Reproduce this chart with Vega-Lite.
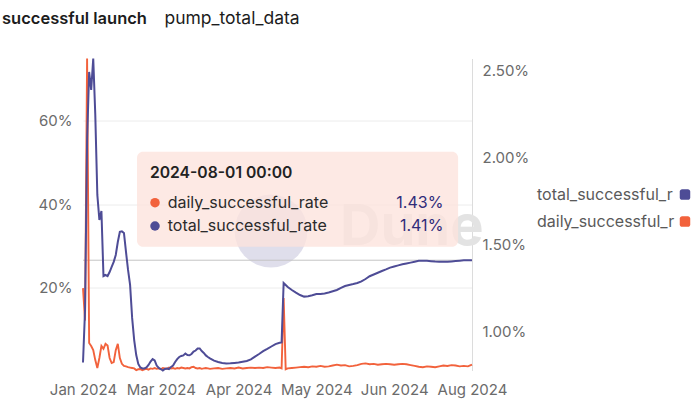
{
  "$schema": "https://vega.github.io/schema/vega-lite/v6.json",
  "width": 389,
  "height": 312,
  "autosize": {"type": "none"},
  "padding": {"left": 83, "top": 58.5, "right": 228, "bottom": 30.5},
  "background": "#ffffff",
  "config": {
    "font": "Inter",
    "view": {"stroke": null},
    "axis": {"labelFont": "Inter", "labelFontSize": 15, "labelColor": "#6b6b6b", "ticks": false, "tickSize": 0, "domain": false, "grid": false}
  },
  "title": {
    "text": "successful launch",
    "subtitle": "\u200b\u00a0\u00a0\u00a0\u00a0\u00a0\u00a0\u00a0\u00a0\u00a0\u00a0\u00a0\u00a0\u00a0\u00a0\u00a0\u00a0\u00a0\u00a0\u00a0\u00a0\u00a0\u00a0\u00a0\u00a0\u00a0\u00a0\u00a0\u00a0\u00a0\u00a0\u00a0\u00a0\u00a0pump_total_data",
    "anchor": "start",
    "frame": "group",
    "dx": -81,
    "offset": 26.5,
    "font": "Inter",
    "fontSize": 16.5,
    "fontWeight": 600,
    "color": "#1c1c1c",
    "subtitleFont": "Inter",
    "subtitleFontSize": 17.5,
    "subtitleFontWeight": 400,
    "subtitleColor": "#1c1c1c",
    "subtitlePadding": -17.3
  },
  "data": {
    "values": [
      {"date": "2024-01-24", "daily": 0.198, "total": 0.00823},
      {"date": "2024-01-25", "daily": 0.120, "total": 0.01124},
      {"date": "2024-01-26", "daily": 0.750, "total": 0.02099},
      {"date": "2024-01-27", "daily": 0.066, "total": 0.02489},
      {"date": "2024-01-28", "daily": 0.059, "total": 0.02386},
      {"date": "2024-01-29", "daily": 0.049, "total": 0.02566},
      {"date": "2024-01-30", "daily": 0.025, "total": 0.02243},
      {"date": "2024-01-31", "daily": 0.006, "total": 0.01784},
      {"date": "2024-02-01", "daily": 0.030, "total": 0.01640},
      {"date": "2024-02-02", "daily": 0.059, "total": 0.01692},
      {"date": "2024-02-03", "daily": 0.052, "total": 0.01319},
      {"date": "2024-02-04", "daily": 0.064, "total": 0.01325},
      {"date": "2024-02-05", "daily": 0.060, "total": 0.01319},
      {"date": "2024-02-06", "daily": 0.030, "total": 0.01342},
      {"date": "2024-02-07", "daily": 0.018, "total": 0.01371},
      {"date": "2024-02-08", "daily": 0.020, "total": 0.01400},
      {"date": "2024-02-09", "daily": 0.049, "total": 0.01440},
      {"date": "2024-02-10", "daily": 0.064, "total": 0.01514},
      {"date": "2024-02-11", "daily": 0.030, "total": 0.01572},
      {"date": "2024-02-12", "daily": 0.016, "total": 0.01575},
      {"date": "2024-02-13", "daily": 0.011, "total": 0.01566},
      {"date": "2024-02-14", "daily": 0.010, "total": 0.01457},
      {"date": "2024-02-15", "daily": 0.008, "total": 0.01354},
      {"date": "2024-02-16", "daily": 0.007, "total": 0.01268},
      {"date": "2024-02-17", "daily": 0.006, "total": 0.01079},
      {"date": "2024-02-18", "daily": 0.005, "total": 0.00952},
      {"date": "2024-02-19", "daily": 0.001, "total": 0.00866},
      {"date": "2024-02-20", "daily": 0.003, "total": 0.00815},
      {"date": "2024-02-21", "daily": 0.0035, "total": 0.00795},
      {"date": "2024-02-22", "daily": 0.001, "total": 0.00789},
      {"date": "2024-02-23", "daily": 0.003, "total": 0.00789},
      {"date": "2024-02-24", "daily": 0.004, "total": 0.00795},
      {"date": "2024-02-25", "daily": 0.002, "total": 0.00809},
      {"date": "2024-02-26", "daily": 0.005, "total": 0.00829},
      {"date": "2024-02-27", "daily": 0.004, "total": 0.00843},
      {"date": "2024-02-28", "daily": 0.006, "total": 0.00835},
      {"date": "2024-02-29", "daily": 0.004, "total": 0.00806},
      {"date": "2024-03-01", "daily": 0.005, "total": 0.00792},
      {"date": "2024-03-02", "daily": 0.003, "total": 0.00786},
      {"date": "2024-03-03", "daily": 0.006, "total": 0.007775},
      {"date": "2024-03-04", "daily": 0.005, "total": 0.00786},
      {"date": "2024-03-05", "daily": 0.004, "total": 0.00789},
      {"date": "2024-03-06", "daily": 0.007, "total": 0.00786},
      {"date": "2024-03-07", "daily": 0.005, "total": 0.00798},
      {"date": "2024-03-08", "daily": 0.006, "total": 0.00806},
      {"date": "2024-03-09", "daily": 0.004, "total": 0.00826},
      {"date": "2024-03-10", "daily": 0.006, "total": 0.00843},
      {"date": "2024-03-11", "daily": 0.005, "total": 0.00855},
      {"date": "2024-03-12", "daily": 0.007, "total": 0.00861},
      {"date": "2024-03-13", "daily": 0.006, "total": 0.00864},
      {"date": "2024-03-14", "daily": 0.005, "total": 0.00875},
      {"date": "2024-03-15", "daily": 0.006, "total": 0.00866},
      {"date": "2024-03-16", "daily": 0.005, "total": 0.00865},
      {"date": "2024-03-17", "daily": 0.008, "total": 0.00872},
      {"date": "2024-03-18", "daily": 0.009, "total": 0.00886},
      {"date": "2024-03-19", "daily": 0.006, "total": 0.00892},
      {"date": "2024-03-20", "daily": 0.005, "total": 0.00904},
      {"date": "2024-03-21", "daily": 0.006, "total": 0.00904},
      {"date": "2024-03-22", "daily": 0.004, "total": 0.00889},
      {"date": "2024-03-23", "daily": 0.005, "total": 0.00878},
      {"date": "2024-03-24", "daily": 0.006, "total": 0.00864},
      {"date": "2024-03-25", "daily": 0.005, "total": 0.00855},
      {"date": "2024-03-26", "daily": 0.004, "total": 0.00847},
      {"date": "2024-03-28", "daily": 0.005, "total": 0.00834},
      {"date": "2024-03-30", "daily": 0.006, "total": 0.00826},
      {"date": "2024-04-01", "daily": 0.004, "total": 0.00821},
      {"date": "2024-04-03", "daily": 0.005, "total": 0.00818},
      {"date": "2024-04-05", "daily": 0.006, "total": 0.00819},
      {"date": "2024-04-07", "daily": 0.005, "total": 0.00821},
      {"date": "2024-04-09", "daily": 0.007, "total": 0.00823},
      {"date": "2024-04-11", "daily": 0.005, "total": 0.00828},
      {"date": "2024-04-13", "daily": 0.006, "total": 0.00832},
      {"date": "2024-04-15", "daily": 0.007, "total": 0.00841},
      {"date": "2024-04-17", "daily": 0.006, "total": 0.00857},
      {"date": "2024-04-19", "daily": 0.007, "total": 0.00872},
      {"date": "2024-04-21", "daily": 0.006, "total": 0.00888},
      {"date": "2024-04-23", "daily": 0.008, "total": 0.00901},
      {"date": "2024-04-25", "daily": 0.007, "total": 0.00915},
      {"date": "2024-04-27", "daily": 0.006, "total": 0.00929},
      {"date": "2024-04-29", "daily": 0.007, "total": 0.00936},
      {"date": "2024-04-30", "daily": 0.005, "total": 0.00938},
      {"date": "2024-05-01", "daily": 0.174, "total": 0.01279},
      {"date": "2024-05-02", "daily": 0.003, "total": 0.01268},
      {"date": "2024-05-03", "daily": 0.005, "total": 0.01256},
      {"date": "2024-05-05", "daily": 0.006, "total": 0.01239},
      {"date": "2024-05-07", "daily": 0.007, "total": 0.01224},
      {"date": "2024-05-09", "daily": 0.008, "total": 0.01210},
      {"date": "2024-05-11", "daily": 0.009, "total": 0.01201},
      {"date": "2024-05-13", "daily": 0.008, "total": 0.01203},
      {"date": "2024-05-15", "daily": 0.010, "total": 0.01209},
      {"date": "2024-05-17", "daily": 0.009, "total": 0.01216},
      {"date": "2024-05-19", "daily": 0.011, "total": 0.01216},
      {"date": "2024-05-21", "daily": 0.009, "total": 0.01219},
      {"date": "2024-05-23", "daily": 0.010, "total": 0.01225},
      {"date": "2024-05-25", "daily": 0.012, "total": 0.01232},
      {"date": "2024-05-27", "daily": 0.014, "total": 0.01239},
      {"date": "2024-05-29", "daily": 0.012, "total": 0.01251},
      {"date": "2024-05-31", "daily": 0.013, "total": 0.01262},
      {"date": "2024-06-02", "daily": 0.010, "total": 0.01268},
      {"date": "2024-06-04", "daily": 0.011, "total": 0.01273},
      {"date": "2024-06-06", "daily": 0.013, "total": 0.01279},
      {"date": "2024-06-08", "daily": 0.016, "total": 0.01288},
      {"date": "2024-06-10", "daily": 0.017, "total": 0.01302},
      {"date": "2024-06-12", "daily": 0.015, "total": 0.01318},
      {"date": "2024-06-14", "daily": 0.016, "total": 0.01328},
      {"date": "2024-06-16", "daily": 0.014, "total": 0.01338},
      {"date": "2024-06-18", "daily": 0.015, "total": 0.01348},
      {"date": "2024-06-20", "daily": 0.016, "total": 0.01357},
      {"date": "2024-06-22", "daily": 0.015, "total": 0.01367},
      {"date": "2024-06-24", "daily": 0.014, "total": 0.01374},
      {"date": "2024-06-26", "daily": 0.015, "total": 0.01380},
      {"date": "2024-06-28", "daily": 0.016, "total": 0.01386},
      {"date": "2024-06-30", "daily": 0.015, "total": 0.01391},
      {"date": "2024-07-02", "daily": 0.013, "total": 0.01396},
      {"date": "2024-07-04", "daily": 0.011, "total": 0.01401},
      {"date": "2024-07-06", "daily": 0.009, "total": 0.01406},
      {"date": "2024-07-08", "daily": 0.008, "total": 0.01407},
      {"date": "2024-07-10", "daily": 0.010, "total": 0.01406},
      {"date": "2024-07-12", "daily": 0.009, "total": 0.01404},
      {"date": "2024-07-14", "daily": 0.008, "total": 0.01402},
      {"date": "2024-07-16", "daily": 0.010, "total": 0.01401},
      {"date": "2024-07-18", "daily": 0.012, "total": 0.01401},
      {"date": "2024-07-20", "daily": 0.011, "total": 0.01401},
      {"date": "2024-07-22", "daily": 0.013, "total": 0.01403},
      {"date": "2024-07-24", "daily": 0.012, "total": 0.01405},
      {"date": "2024-07-26", "daily": 0.010, "total": 0.01407},
      {"date": "2024-07-28", "daily": 0.011, "total": 0.01409},
      {"date": "2024-07-30", "daily": 0.010, "total": 0.01409},
      {"date": "2024-08-01", "daily": 0.0143, "total": 0.0141}
    ]
  },
  "layer": [
    {
      "layer": [
        {
          "data": {"values": [{}]},
          "mark": {"type": "point", "filled": true, "size": 5300, "color": "#1e1870", "opacity": 0.14, "strokeWidth": 0},
          "encoding": {
            "x": {"datum": {"year": 2024, "month": 4, "date": 24, "hours": 20, "utc": true}, "type": "temporal", "title": null},
            "y": {"datum": 0.3353, "type": "quantitative", "title": null}
          }
        },
        {
          "data": {"values": [{}]},
          "mark": {"type": "text", "text": "Dune", "fontSize": 56, "fontWeight": 700, "color": "#e3e3e3", "align": "left", "baseline": "alphabetic", "font": "Inter"},
          "encoding": {
            "x": {"datum": {"year": 2024, "month": 5, "date": 28, "hours": 13, "utc": true}, "type": "temporal", "title": null},
            "y": {"datum": 0.3017, "type": "quantitative", "title": null}
          }
        },
        {
          "data": {"values": [{}]},
          "mark": {"type": "rule", "color": "#c4c4c4", "strokeWidth": 1},
          "encoding": {
            "y": {"datum": 0.2651, "type": "quantitative", "title": null}
          }
        },
        {
          "mark": {"type": "line", "strokeWidth": 1.9, "interpolate": "linear", "color": "#f2623c"},
          "encoding": {
            "x": {
              "field": "date", "type": "temporal", "title": null,
              "scale": {"type": "utc", "domain": [{"year": 2024, "month": 1, "date": 24, "utc": true}, {"year": 2024, "month": 8, "date": 1, "utc": true}]},
              "axis": {
                "title": null, "format": "%b %Y", "labelFlush": false, "labelOverlap": false, "labelPadding": 12,
                "values": [
                  {"year": 2024, "month": 1, "date": 24, "utc": true},
                  {"year": 2024, "month": 3, "date": 2, "utc": true},
                  {"year": 2024, "month": 4, "date": 9, "utc": true},
                  {"year": 2024, "month": 5, "date": 17, "utc": true},
                  {"year": 2024, "month": 6, "date": 24, "utc": true},
                  {"year": 2024, "month": 8, "date": 1, "utc": true}
                ]
              }
            },
            "y": {
              "field": "daily", "type": "quantitative", "title": null,
              "scale": {"domain": [0, 0.75], "nice": false, "zero": false},
              "axis": {"title": null, "values": [0.2, 0.4, 0.6], "format": ".0%", "grid": true, "gridColor": "#ececec", "labelPadding": 11}
            }
          }
        },
        {
          "transform": [{"filter": "false"}],
          "mark": {"type": "point", "filled": true, "opacity": 1, "shape": "M-1,-0.55A0.45,0.45,0,0,1,-0.55,-1L0.55,-1A0.45,0.45,0,0,1,1,-0.55L1,0.55A0.45,0.45,0,0,1,0.55,1L-0.55,1A0.45,0.45,0,0,1,-1,0.55Z"},
          "encoding": {
            "color": {
              "field": "series", "type": "nominal",
              "scale": {"domain": ["total_successful_rate", "daily_successful_rate"], "range": ["#4e4c96", "#f2623c"]},
              "legend": {
                "orient": "none", "legendX": 594, "legendY": 128, "title": null,
                "labelExpr": "slice(datum.label, 0, 18)", "labelOffset": -156,
                "labelFont": "Inter", "labelFontSize": 16, "labelColor": "#5a5a5a",
                "symbolType": "M-1,-0.55A0.45,0.45,0,0,1,-0.55,-1L0.55,-1A0.45,0.45,0,0,1,1,-0.55L1,0.55A0.45,0.45,0,0,1,0.55,1L-0.55,1A0.45,0.45,0,0,1,-1,0.55Z",
                "symbolSize": 110, "symbolStrokeWidth": 0, "symbolOpacity": 1, "rowPadding": 11
              }
            }
          }
        },
        {
          "data": {"values": [{}]},
          "mark": {"type": "rect", "cornerRadius": 6, "fill": "#fce3dc", "fillOpacity": 0.78},
          "encoding": {
            "x": {"datum": {"year": 2024, "month": 2, "date": 19, "hours": 9, "utc": true}, "type": "temporal", "title": null},
            "x2": {"datum": {"year": 2024, "month": 7, "date": 25, "hours": 5, "utc": true}},
            "y": {"datum": 0.526, "type": "quantitative", "title": null},
            "y2": {"datum": 0.2976}
          }
        },
        {
          "data": {"values": [{}]},
          "mark": {"type": "text", "text": "2024-08-01 00:00", "align": "left", "baseline": "middle", "fontSize": 15.7, "fontWeight": 600, "color": "#222222", "font": "Inter"},
          "encoding": {
            "x": {"datum": {"year": 2024, "month": 2, "date": 25, "hours": 17, "utc": true}, "type": "temporal", "title": null},
            "y": {"datum": 0.474, "type": "quantitative", "title": null}
          }
        },
        {
          "data": {"values": [{}]},
          "mark": {"type": "point", "filled": true, "size": 90, "color": "#f2623c", "opacity": 1},
          "encoding": {
            "x": {"datum": {"year": 2024, "month": 2, "date": 28, "hours": 4, "utc": true}, "type": "temporal", "title": null},
            "y": {"datum": 0.4034, "type": "quantitative", "title": null}
          }
        },
        {
          "data": {"values": [{}]},
          "mark": {"type": "point", "filled": true, "size": 90, "color": "#4e4c96", "opacity": 1},
          "encoding": {
            "x": {"datum": {"year": 2024, "month": 2, "date": 28, "hours": 4, "utc": true}, "type": "temporal", "title": null},
            "y": {"datum": 0.3474, "type": "quantitative", "title": null}
          }
        },
        {
          "data": {"values": [{}]},
          "mark": {"type": "text", "text": "daily_successful_rate", "align": "left", "baseline": "middle", "fontSize": 16, "color": "#2b2b2b", "font": "Inter"},
          "encoding": {
            "x": {"datum": {"year": 2024, "month": 3, "date": 5, "hours": 9, "utc": true}, "type": "temporal", "title": null},
            "y": {"datum": 0.4034, "type": "quantitative", "title": null}
          }
        },
        {
          "data": {"values": [{}]},
          "mark": {"type": "text", "text": "total_successful_rate", "align": "left", "baseline": "middle", "fontSize": 16, "color": "#2b2b2b", "font": "Inter"},
          "encoding": {
            "x": {"datum": {"year": 2024, "month": 3, "date": 5, "hours": 9, "utc": true}, "type": "temporal", "title": null},
            "y": {"datum": 0.3474, "type": "quantitative", "title": null}
          }
        },
        {
          "transform": [{"filter": "utcmonth(datum.date) == 7 && utcdate(datum.date) == 1"}],
          "mark": {"type": "text", "align": "right", "baseline": "middle", "fontSize": 16, "color": "#2f2c7a", "font": "Inter"},
          "encoding": {
            "x": {"datum": {"year": 2024, "month": 7, "date": 18, "utc": true}, "type": "temporal", "title": null},
            "y": {"datum": 0.4034, "type": "quantitative", "title": null},
            "text": {"field": "daily", "type": "quantitative", "format": ".2%"}
          }
        },
        {
          "transform": [{"filter": "utcmonth(datum.date) == 7 && utcdate(datum.date) == 1"}],
          "mark": {"type": "text", "align": "right", "baseline": "middle", "fontSize": 16, "color": "#2f2c7a", "font": "Inter"},
          "encoding": {
            "x": {"datum": {"year": 2024, "month": 7, "date": 18, "utc": true}, "type": "temporal", "title": null},
            "y": {"datum": 0.3474, "type": "quantitative", "title": null},
            "text": {"field": "total", "type": "quantitative", "format": ".2%"}
          }
        }
      ]
    },
    {
      "mark": {"type": "line", "strokeWidth": 2, "interpolate": "linear", "color": "#4e4c96"},
      "encoding": {
        "x": {
          "field": "date", "type": "temporal", "title": null,
          "scale": {"type": "utc", "domain": [{"year": 2024, "month": 1, "date": 24, "utc": true}, {"year": 2024, "month": 8, "date": 1, "utc": true}]},
          "axis": {
            "title": null, "format": "%b %Y", "labelFlush": false, "labelOverlap": false, "labelPadding": 12,
            "values": [
              {"year": 2024, "month": 1, "date": 24, "utc": true},
              {"year": 2024, "month": 3, "date": 2, "utc": true},
              {"year": 2024, "month": 4, "date": 9, "utc": true},
              {"year": 2024, "month": 5, "date": 17, "utc": true},
              {"year": 2024, "month": 6, "date": 24, "utc": true},
              {"year": 2024, "month": 8, "date": 1, "utc": true}
            ]
          }
        },
        "y": {
          "field": "total", "type": "quantitative", "title": null,
          "scale": {"domain": [0.007775, 0.02566], "nice": false, "zero": false},
          "axis": {"title": null, "orient": "right", "values": [0.01, 0.015, 0.02, 0.025], "format": ".2%", "domain": true, "domainColor": "#dcdcdc", "labelPadding": 10, "grid": false}
        }
      }
    }
  ],
  "resolve": {"scale": {"y": "independent"}}
}
